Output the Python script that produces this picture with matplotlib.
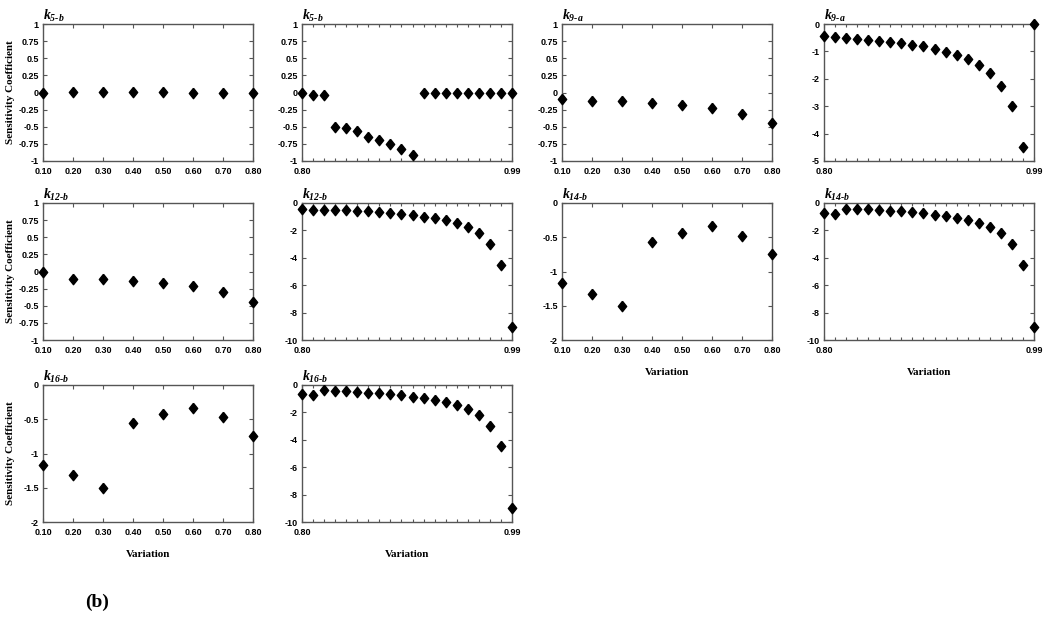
import matplotlib
matplotlib.use('Agg')
import matplotlib.pyplot as plt
from matplotlib.ticker import FixedLocator, FuncFormatter

plt.rcParams['axes.unicode_minus'] = False
plt.rcParams['mathtext.fontset'] = 'custom'
plt.rcParams['mathtext.rm'] = 'Liberation Serif:italic:bold'
plt.rcParams['mathtext.it'] = 'Liberation Serif:italic:bold'

# x grids
x_low = [0.10, 0.20, 0.30, 0.40, 0.50, 0.60, 0.70, 0.80]
x_high = [0.80, 0.81, 0.82, 0.83, 0.84, 0.85, 0.86, 0.87, 0.88, 0.89,
          0.90, 0.91, 0.92, 0.93, 0.94, 0.95, 0.96, 0.97, 0.98, 0.99]

# sensitivity coefficients
k5b_low = [0.0, 0.01, 0.01, 0.01, 0.01, 0.0, 0.0, 0.0]
k5b_high = [0.0, -0.04, -0.04, -0.50, -0.52, -0.56, -0.65, -0.70, -0.75, -0.83,
            -0.91, 0.0, 0.0, 0.0, 0.0, 0.0, 0.0, 0.0, 0.0, 0.0]
k9a_low = [-0.10, -0.12, -0.13, -0.16, -0.18, -0.22, -0.31, -0.44]
k9a_high = [-0.42, -0.47, -0.52, -0.55, -0.58, -0.62, -0.64, -0.70, -0.75, -0.80,
            -0.90, -1.02, -1.12, -1.29, -1.50, -1.80, -2.25, -3.0, -4.48, 0.0]
k12b_low = [-0.01, -0.11, -0.11, -0.14, -0.17, -0.21, -0.30, -0.45]
k12b_high = [-0.41, -0.49, -0.49, -0.54, -0.54, -0.61, -0.61, -0.66, -0.73, -0.78,
             -0.88, -1.0, -1.12, -1.24, -1.49, -1.76, -2.22, -3.0, -4.49, -9.02]
k14b_low = [-1.17, -1.33, -1.51, -0.57, -0.44, -0.34, -0.48, -0.75]
k14b_high = [-0.71, -0.78, -0.41, -0.46, -0.46, -0.54, -0.59, -0.59, -0.66, -0.71,
             -0.88, -0.98, -1.12, -1.24, -1.49, -1.76, -2.22, -3.0, -4.49, -9.02]
k16b_low = [-1.17, -1.32, -1.51, -0.56, -0.43, -0.33, -0.47, -0.74]
k16b_high = [-0.68, -0.73, -0.39, -0.46, -0.46, -0.54, -0.59, -0.59, -0.66, -0.71,
             -0.85, -0.98, -1.10, -1.22, -1.44, -1.73, -2.20, -2.98, -4.44, -8.98]

titles = ['5-b', '5-b', '9-a', '9-a', '12-b', '12-b', '14-b', '14-b', '16-b', '16-b']

diamond = [(0, 1), (0.8, 0), (0, -1), (-0.8, 0), (0, 1)]

fig = plt.figure(figsize=(10.5, 6.18), dpi=100)
W, H = 1050, 618
col_left = [43, 302, 562, 824]
row_top = [24, 203, 385]
aw, ah = 210, 137

panels = [
    (0, 0, x_low, k5b_low, (-1, 1), [1, 0.75, 0.5, 0.25, 0, -0.25, -0.5, -0.75, -1]),
    (0, 1, x_high, k5b_high, (-1, 1), [1, 0.75, 0.5, 0.25, 0, -0.25, -0.5, -0.75, -1]),
    (0, 2, x_low, k9a_low, (-1, 1), [1, 0.75, 0.5, 0.25, 0, -0.25, -0.5, -0.75, -1]),
    (0, 3, x_high, k9a_high, (-5, 0), [0, -1, -2, -3, -4, -5]),
    (1, 0, x_low, k12b_low, (-1, 1), [1, 0.75, 0.5, 0.25, 0, -0.25, -0.5, -0.75, -1]),
    (1, 1, x_high, k12b_high, (-10, 0), [0, -2, -4, -6, -8, -10]),
    (1, 2, x_low, k14b_low, (-2, 0), [0, -0.5, -1, -1.5, -2]),
    (1, 3, x_high, k14b_high, (-10, 0), [0, -2, -4, -6, -8, -10]),
    (2, 0, x_low, k16b_low, (-2, 0), [0, -0.5, -1, -1.5, -2]),
    (2, 1, x_high, k16b_high, (-10, 0), [0, -2, -4, -6, -8, -10]),
]

tick_font = dict(family='Liberation Sans', weight='bold', size=6.5)
label_font = dict(family='Liberation Serif', weight='bold', size=8)

for i, (r, c, xs, ys, ylim, yticks) in enumerate(panels):
    ax = fig.add_axes([col_left[c] / W, 1 - (row_top[r] + ah) / H, aw / W, ah / H])
    ax.plot(xs, ys, linestyle='none', marker=diamond, markersize=7.5,
            color='black', clip_on=False, zorder=5)
    ax.set_xlim(xs[0], xs[-1])
    ax.set_ylim(*ylim)
    if xs is x_low:
        ax.xaxis.set_major_locator(FixedLocator(x_low))
    else:
        ax.xaxis.set_major_locator(FixedLocator([x_high[0], x_high[-1]]))
        ax.xaxis.set_minor_locator(FixedLocator(x_high))
    ax.xaxis.set_major_formatter(FuncFormatter(lambda v, p: f'{v:.2f}'))
    ax.yaxis.set_major_locator(FixedLocator(yticks))
    ax.yaxis.set_major_formatter(FuncFormatter(lambda v, p: f'{v:g}'))
    ax.tick_params(which='both', direction='in', top=True, right=True,
                   length=3, width=0.8, color='#555555')
    ax.tick_params(axis='x', pad=4)
    ax.tick_params(axis='y', pad=3)
    ax.tick_params(which='minor', length=2)
    for lab in ax.get_xticklabels() + ax.get_yticklabels():
        lab.set(**tick_font)
    for s in ax.spines.values():
        s.set_color('#555555')
        s.set_linewidth(1.0)
    ax.set_title(r'$k_{\text{%s}}$' % titles[i], loc='left', pad=3, fontsize=10)
    if c == 0:
        ax.set_ylabel('Sensitivity Coefficient', **label_font)
        ax.yaxis.set_label_coords(-0.133, 0.5)
    if (r == 1 and c >= 2) or r == 2:
        ax.set_xlabel('Variation', labelpad=10, **label_font)

fig.text(85 / W, 1 - 607 / H, '(b)', family='Liberation Serif', weight='bold',
         fontsize=14, va='baseline')

fig.savefig('out.png', dpi=100)
